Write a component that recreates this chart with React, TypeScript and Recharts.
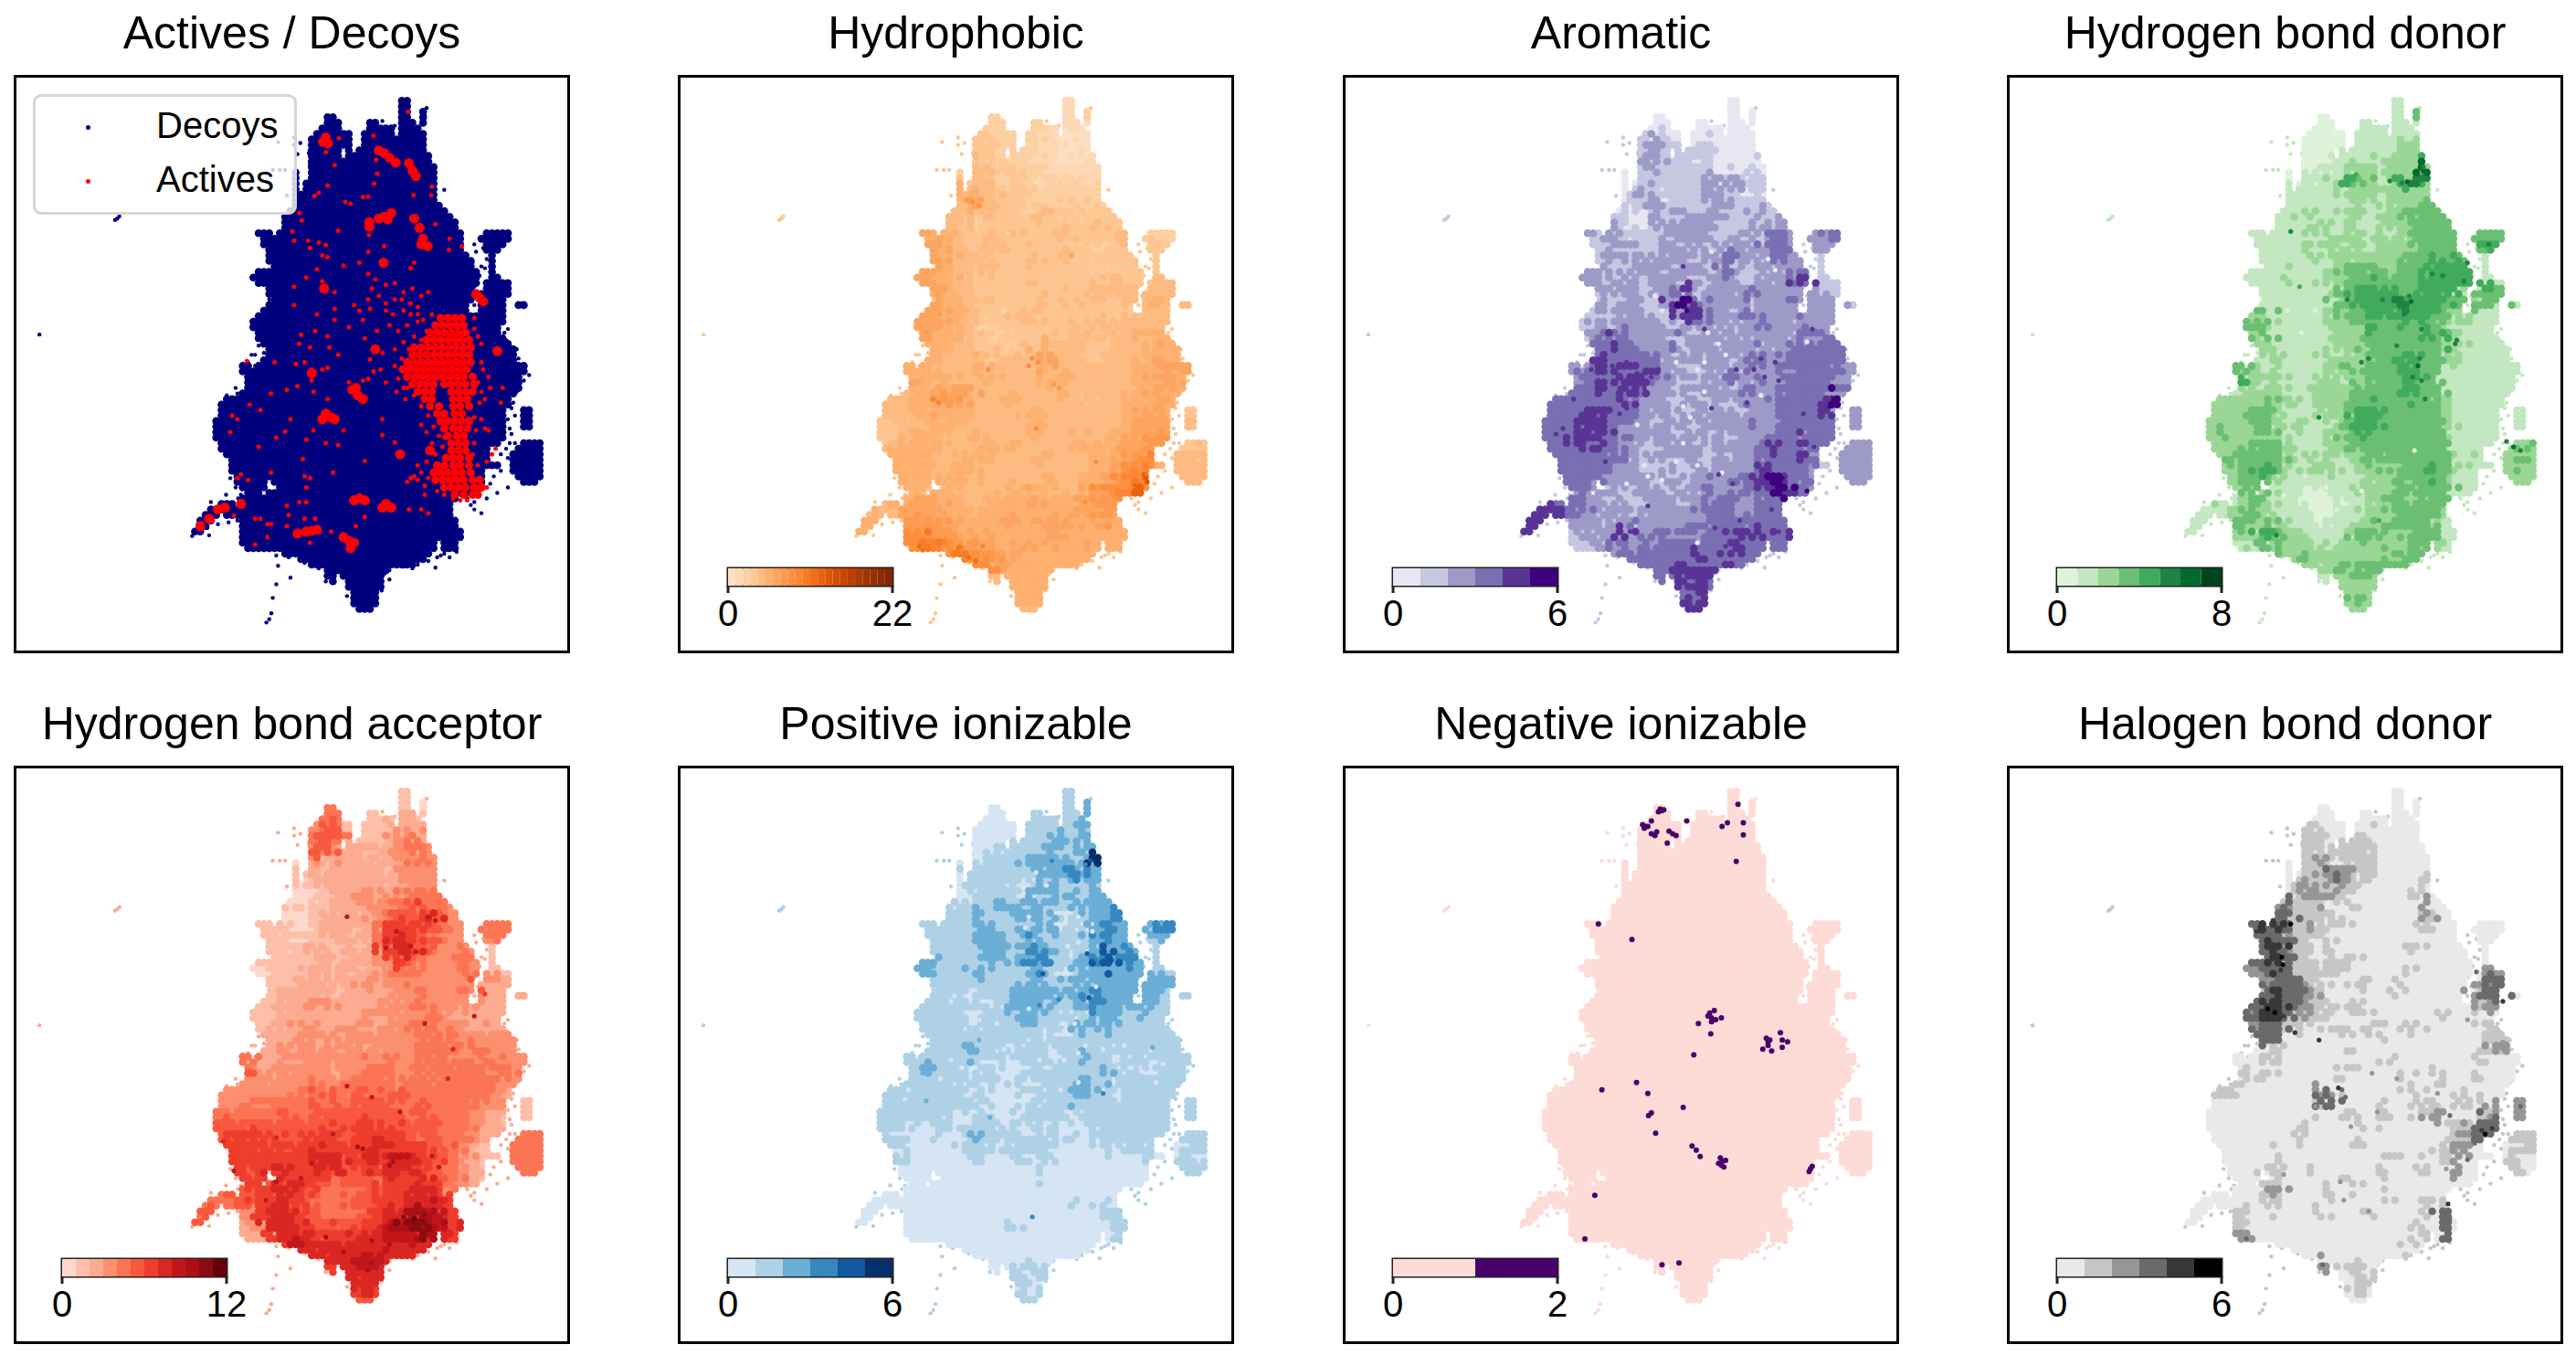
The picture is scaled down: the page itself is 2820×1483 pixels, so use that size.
import React from "react";
import { ScatterChart, Scatter, XAxis, YAxis, Legend, BarChart, Bar, ReferenceArea } from "recharts";

// ---------- footprint of the embedding, read row by row: x-start, x-end pairs; rows are 15 units apart from y=70 ----------
const footprintSpans: number[][] = [
[1090,1110],[1085,1115],[1085,1118,1155,1165],[880,910,1095,1120,1150,1168],[875,915,1000,1030,1095,1125,1150,1160],
[860,925,1000,1075,1090,1150],[845,945,990,1078,1090,1160],[840,955,985,1163],[838,945,982,1165],[835,925,945,950,975,1165],
[835,925,940,1172],[838,1180],[840,1185],[790,805,835,1188],[790,805,828,1190],[790,805,825,1190],[792,805,820,1190],[790,810,815,1188],
[790,1190],[785,1200],[775,1222],[765,1235],[760,1245],[755,1255],[690,730,745,1262,1325,1405],[700,1268,1320,1408],[705,1270,1330,1390],
[712,1272,1335,1370],[715,1285,1338,1355],[720,1292,1342,1355],[725,1298,1345,1360],[678,740,745,1305,1345,1362],[675,1305,1340,1365],
[680,740,745,1305,1330,1398],[710,735,742,1300,1325,1398],[708,735,738,1295,1320,1395],[725,1290,1315,1392],[715,1285,1312,1390,1425,1442],
[695,1285,1310,1390],[680,1390],[675,1385],[675,1365],[680,1370],[690,1385],[705,1395],[712,1412],[708,1415],[695,1415],[645,665,690,1440],
[640,680,685,1442],[650,1438],[660,1425],[650,1425],[635,1415],[590,1405],[585,1395],[582,1390,1440,1460],[578,1385,1430,1465],[568,1390,1430,1465],
[562,1390,1440,1462],[565,1390],[568,1390],[575,1375,1430,1490],[580,1345,1415,1497],[598,1345,1405,1497],[605,1335,1405,1497],[610,1335,1350,1375,1405,1495],
[610,1330,1410,1495],[618,1325,1420,1485],[625,715,735,1320,1440,1470],[640,715,740,1320],[650,700,720,1310],[640,1250],[575,625,635,1240],[545,630,640,1240],
[530,580,600,630,635,1240],[520,565,635,1250],[515,550,638,1258],[510,535,640,1260],[645,1200,1210,1260],[645,1195,1212,1258],[650,720,730,1185,1215,1255],
[760,1180],[800,1165],[840,1135],[880,1050],[885,905,930,1040],[888,900,935,1035],[945,1035],[948,1032],[952,1030],[955,1028],[968,1005],
];

// ---------- per-panel level maps, 30-unit cells from x=480, y=60 ----------
const hydrophobicLevels = [
"..... ..... ..... ..... 1",
"..... ..... ....2 ..... 1.2",
"..... ..... ...22 ...21 110",
"..... ..... ..322 2.211 000",
"..... ..... ..332 ..211 000",
"..... ..... ..332 22111 0011.",
"..... ..... 2.443 32221 1111.",
"..... ..... 3.432 23212 1211.",
"..... ..... 54543 33222 2222.",
"..... ..... 45643 33232 2322.",
"..... ....4 44343 33243 33233",
"..... ....4 43233 33333 33343 3",
"..... ..655 43343 43333 43333 44.22 2",
"..... ...65 43344 33333 33322 33.33",
"..... ...65 44433 33433 43333 33..3",
"..... ...65 44343 33333 33332 333.3",
"..... ..655 44333 33433 33333 433.4",
"..... ...65 44333 33333 33344 44444 4",
"..... ...65 54343 33343 43343 34445 4",
"..... ..665 54433 34333 33334 33444 4",
"..... ..665 44323 33433 34344 34444",
"..... ..655 54332 33333 34433 44545 5",
"..... ...55 44333 23354 44333 44455 5",
"..... ...54 44434 34466 44334 44456 55",
"..... .5544 44544 44454 44444 44555 66",
"..... .6545 44454 44445 54444 44556 65",
"..... .4565 66444 44444 54444 44556 55",
"....4 45567 65444 54444 44344 45556 5",
"....4 44555 55444 44544 44444 45566 5.3",
"...33 44455 54444 44454 44444 45666 6.4",
"...33 45554 44544 44544 45444 55667 6",
"...44 55454 44454 54444 44554 56677 ..33",
"....5 55544 45554 44454 44455 56785 .444",
"..... 55544 55444 44444 44455 67895 .444",
"..... 55554 54544 44445 44556 789a. ..44",
"..... .5455 44444 54554 44568 89c88",
"..545 .6665 54445 55655 55677 7",
".454. .6665 55455 55555 56667 6",
".55.. .7776 55555 65566 65566 55",
".5... .8877 65565 55556 65555 55",
"..... .8a98 77665 55655 55655 55",
"..... ...89 a9876 65555 555",
"..... ..... ..886 55555 5",
"..... ..... ...4. 5555.",
"..... ..... ..... .555.",
"..... ..... ..... .555.",
"..... ..... ..... .44..",
];

const aromaticLevels = [
"..... ..... ..... ..... 0",
"..... ..... ....0 ..... 0.0",
"..... ..... ...00 ...00 000",
"..... ..... ..101 0.010 000",
"..... ..... ..121 ..110 000",
"..... ..... ..221 11010 0001",
"..... ..... 0.121 11110 0010",
"..... ..... 0.111 11122 1211",
"..... ..... 01211 11122 1101",
"..... ..... 01120 11112 2111",
"..... ....1 10021 12122 11121",
"..... ....2 10012 22221 11212 2",
"..... ..212 11111 22221 12213 32.22 3",
"..... ...12 12112 21212 12123 33.22",
"..... ...12 21212 22122 31212 32..1",
"..... ...21 12221 12211 32121 223.1",
"..... ..212 12122 21212 21122 234.1",
"..... ...21 22112 34122 22322 22221 1",
"..... ...21 12112 45322 22122 23222 2",
"..... ..121 22211 24432 21322 22322 2",
"..... ..121 22221 12322 12232 22222",
"..... ..223 32222 12122 21222 21323 2",
"..... ...34 33222 31221 22212 22333 3",
"..... ...43 33332 12212 21232 23333 33",
"..... .2343 34342 21122 12322 32333 32",
"..... .2343 44432 12122 31232 23333 22",
"..... .3343 34322 12121 22322 33333 23",
"....3 33333 43222 12212 12222 33334 5",
"....3 33443 33212 11212 21222 33334 42.2",
"...33 34443 32212 12122 22322 33333 32.2",
"...33 34443 23222 12112 12223 33233 3",
"...33 34333 22112 22112 22234 33433 2..22",
"....3 33333 32122 12212 12233 33432 .222",
"..... 33332 22111 21212 22234 33321 .222",
"..... 33322 22212 11222 23345 43321 ..22",
"..... .3222 11221 21232 22334 54321",
"..443 .3221 21122 12223 32233 3",
".444. .3212 21222 22233 32233 3",
".44.. .2212 23222 22323 33333 34",
".4... .1222 42223 23233 34343 34",
"..... .1122 32323 33333 34333 34",
"..... ...23 33333 33434 333",
"..... ..... ..333 44343 43",
"..... ..... ...3. 4344.",
"..... ..... ..... .343.",
"..... ..... ..... .434.",
"..... ..... ..... .44..",
];

const donorLevels = [
"..... ..... ..... ..... 1",
"..... ..... ....0 ..... 1.3",
"..... ..... ...00 ...11 111",
"..... ..... ..000 0.111 121",
"..... ..... ..000 ..111 1223",
"..... ..... ..000 11111 2224",
"..... ..... 0.001 12221 22262",
"..... ..... 0.111 24321 24554",
"..... ..... 11111 12222 2222.",
"..... ..... 11111 11211 2223.",
"..... ....1 11211 12212 22333",
"..... ....1 11121 12111 22333 3",
"..... ..111 11112 12212 12333 33.33 3",
"..... ...11 11212 21212 22233 33.34",
"..... ...11 11121 22222 23334 33..1",
"..... ...11 11112 23332 23334 444.1",
"..... ..111 21112 23333 33344 444.1",
"..... ...11 11111 33444 43344 44134 3",
"..... ...11 11111 33444 45444 33233 3",
"..... ..231 11112 23344 44443 32111 1",
"..... ..321 11112 22343 33333 21211",
"..... ..231 11111 22233 33343 42111 1",
"..... ...21 11111 22233 33333 22111 1",
"..... ...12 11112 12233 34433 22111 11",
"..... .3212 11112 23233 34433 11111 11",
"..... .4212 11112 12233 33433 11111 11",
"..... .1222 11122 22333 34433 11111 11",
"....2 22232 22122 23333 33333 21111 1",
"....2 22332 11112 23444 33333 21111 1.1",
"...22 22332 12111 23443 33333 21111 1.1",
"...23 22232 11112 23433 33333 31111 1",
"...22 22333 21112 23333 33333 31111 ..23",
"....2 33333 21212 12233 33333 31112 .232",
"..... 23343 21122 11222 23334 32111 .222",
"..... 23332 11111 11122 23333 21111 ..22",
"..... .2321 11001 11222 23233 31111",
"..221 .2321 11000 01122 33233 3",
".111. .2321 11100 11123 23333 2",
".11.. .3232 11101 11222 33332 11",
".1... .2243 22111 12333 22333 11",
"..... .1133 22211 22222 22332 11",
"..... ...32 22322 22222 233",
"..... ..... ..222 32333 33",
"..... ..... ...1. 2232.",
"..... ..... ..... .222.",
"..... ..... ..... .232.",
"..... ..... ..... .22..",
];

const acceptorLevels = [
"..... ..... ..... ..... 1",
"..... ..... ....4 ..... 1.0",
"..... ..... ...44 ...11 221",
"..... ..... ..345 1.111 232",
"..... ..... ..454 ..112 342",
"..... ..... ..553 22122 3443.",
"..... ..... 0.312 22212 2343.",
"..... ..... 1.212 22221 3333.",
"..... ..... 10122 22222 2333.",
"..... ..... 00012 23322 3444.",
"..... ....1 00112 22333 45444",
"..... ....0 00112 22234 55675 3",
"..... ..111 00122 21246 66654 33.44 4",
"..... ...11 01112 21246 76553 33.34",
"..... ...11 11211 21236 77543 33..1",
"..... ...11 11121 12234 65433 343.1",
"..... ..011 11221 21223 44333 343.1",
"..... ...11 12212 22323 33333 33323 2",
"..... ...12 22221 22222 33433 34532 2",
"..... ..112 22332 22232 33433 33222 2",
"..... ..112 22222 22323 23343 22222",
"..... ..112 23222 32323 33443 33222 2",
"..... ...22 23323 23333 33434 43333 3",
"..... ...23 23232 33233 33444 43433 33",
"..... .4223 23333 33334 33444 34343 33",
"..... .5233 33332 33444 33434 44434 43",
"..... .3323 33433 34444 34434 44444 33",
"....3 33333 34445 45444 54444 44443 2",
"....3 34344 44544 45555 44544 44433 3.1",
"...44 44445 44555 55555 54544 44332 2.1",
"...55 55555 55555 56665 55554 44322 1",
"...56 66565 56566 56676 65454 44322 ..44",
"....6 66656 56666 66676 66655 43211 .444",
"..... 66666 66777 56767 87665 43211 .444",
"..... 65677 66767 55667 76654 43211 ..44",
"..... .6656 76654 55546 66765 43211",
"..445 .5667 66544 44556 67776 3",
".444. .5667 65444 45566 67777 6",
".45.. .3677 66544 44567 79988 66",
".5... .2377 76555 55668 9aa98 67",
"..... .2267 77666 66778 88a97 66",
"..... ...67 87777 77777 777",
"..... ..... ..777 78887 7",
"..... ..... ...6. 7787.",
"..... ..... ..... .777.",
"..... ..... ..... .676.",
"..... ..... ..... .55..",
];

const positiveLevels = [
"..... ..... ..... ..... 1",
"..... ..... ....0 ..... 1.2",
"..... ..... ...00 ...11 112",
"..... ..... ..000 0.111 112",
"..... ..... ..000 ..111 212",
"..... ..... ..001 11112 1212.",
"..... ..... 0.011 11222 2125.",
"..... ..... 1.111 11122 2332.",
"..... ..... 01111 10112 1212.",
"..... ..... 00111 10212 1112.",
"..... ....1 01112 21221 11222",
"..... ....1 11211 12212 01122 3",
"..... ..111 11221 12122 01023 22.23 3",
"..... ...11 11222 11211 11123 22.12",
"..... ...11 11122 12322 10124 22..1",
"..... ...21 11121 12331 11234 232.1",
"..... ..211 11211 11221 01222 222.1",
"..... ...11 11111 11211 12122 22222 2",
"..... ...11 10111 12222 12232 22222 1",
"..... ..111 11101 22212 11232 22221 1",
"..... ..111 10011 12211 10122 21111",
"..... ..111 11011 11211 01212 11111 1",
"..... ...11 11111 11101 01111 11111 1",
"..... ...11 12111 01110 11111 11111 11",
"..... .1111 11101 01110 11211 01101 11",
"..... .1211 11010 00101 11112 10101 11",
"..... .1111 10110 01011 11211 01111 11",
"....1 11111 10100 01011 12211 01111 1",
"....1 11111 11010 00101 11111 11111 1.1",
"...11 11111 00100 00111 10111 11111 1.1",
"...11 01011 01110 10101 01011 11111 1",
"...10 10000 01211 11011 00011 11111 ..11",
"....1 00000 01110 11110 00001 01110 .011",
"..... 10000 00100 01011 00000 00010 .110",
"..... 00000 00000 00010 00000 00000 ..11",
"..... .0000 00000 00000 00000 00000",
"..000 .0000 00000 00000 00000 0",
".000. .0000 00000 00000 01001 0",
".00.. .0000 00000 00000 00001 11",
".0... .0000 00000 10000 00000 11",
"..... .0000 00000 00000 00000 11",
"..... ...00 00000 00000 000",
"..... ..... ..000 00000 0",
"..... ..... ...0. 1011.",
"..... ..... ..... .101.",
"..... ..... ..... .101.",
"..... ..... ..... .11..",
];

const halogenLevels = [
"..... ..... ..... ..... 0",
"..... ..... ....0 ..... 0.0",
"..... ..... ...00 ...00 000",
"..... ..... ..100 0.010 000",
"..... ..... ..110 ..100 000",
"..... ..... ..110 11110 0000",
"..... ..... 0.121 01110 0000",
"..... ..... 0.112 32110 0000",
"..... ..... 01212 21000 0001",
"..... ..... 01221 10000 0010",
"..... ....2 31110 01000 00020",
"..... ....3 31111 00000 00021 0",
"..... ..344 31210 10000 00010 00.00 0",
"..... ...33 31100 00000 00000 00.00",
"..... ...34 21101 00000 00100 00..0",
"..... ...34 31101 01000 00000 000.0",
"..... ..233 31111 10000 01000 000.2",
"..... ...23 33110 00100 00000 00023 3",
"..... ...34 33210 00000 10000 00023 3",
"..... ..344 33210 01000 00000 00012 3",
"..... ..344 31211 00100 00000 10000",
"..... ..233 11000 10010 00100 00001 1",
"..... ...33 00000 00001 00000 00001 1",
"..... ...01 00000 01000 00000 00001 2",
"..... .0011 00000 00000 10000 00010 00",
"..... .1010 00000 01000 01001 00000 00",
"..... .1000 00000 10000 00000 10010 00",
"....1 10000 00023 00000 00100 00100 0",
"....0 00000 00013 00001 00101 00100 2.2",
"...00 00000 00000 01001 00012 00001 2.2",
"...00 00000 00100 00100 00000 01133 3",
"...00 00000 01000 00000 00000 01234 ..11",
"....0 00000 00000 00100 00000 1220. .011",
"..... 00001 00000 00000 10000 12000 .100",
"..... 00011 00100 00001 00010 02000 ..10",
"..... .0011 00000 01000 00000 00000",
"..000 .0012 00001 00000 00000 0",
".000. .0001 00000 00001 00010 1",
".00.. .1000 00010 00010 00010 31",
".0... .1000 00000 00000 00100 30",
"..... .2000 00000 00000 00010 30",
"..... ...00 00000 00000 010",
"..... ..... ..000 00000 0",
"..... ..... ...2. 0110.",
"..... ..... ..... .011.",
"..... ..... ..... .010.",
"..... ..... ..... .00..",
];

// which neighbouring level cell each fine cell shows: 0 self, 1 left, 2 right, 3 up, 4 down
const texture = [
"0102034001200","3002100400301","0410020013000","2003014000240","0120400302001","4003002001030",
"0201030240010","1000402003002","0030100020140","2400003100020","0013020040301",
];

// ---------- fine specks read per panel: x, y, level ----------
const hydrophobicSpecks: number[][] = [
[1000,770,8],[1015,780,8],[990,790,8],[875,800,8],[720,880,9],[735,890,9],[1060,840,7],[1075,850,7],[830,345,8],[850,355,8],[815,340,7],[1110,490,6],[1150,1160,8],[1320,1095,d(13)],[1325,1105,d(13)],[1315,1085,d(12)],
[680,1280,d(11)],[690,1290,d(11)],[820,1310,d(11)],[840,1320,d(11)],[860,1280,9],[800,1290,9],[1240,1130,9],[1280,1120,9],[700,700,7],[740,650,7],[1180,1050,8],[1010,960,8],
[920,640,1],[850,690,2],[950,730,2],[1040,690,2],[930,430,1],[1010,290,1],[1070,170,0],[1115,200,0],
];
const aromaticSpecks: number[][] = [
[700,800,4],[760,790,4],[800,780,4],[830,810,4],[870,820,4],[720,830,4],[780,850,4],[650,880,4],[620,960,4],[600,975,4],[740,1050,4],[780,920,4],[800,905,4],[1110,800,4],[1160,800,4],[1190,820,4],[1230,830,4],
[1140,890,4],[1040,905,4],[1060,1085,4],[1180,1105,4],[1120,1210,4],[1050,1230,4],[860,1170,4],[810,1240,4],[1000,1300,4],[1080,1280,4],[960,520,4],[1290,550,4],[1020,690,4],[1325,690,4],[1210,1180,4],[1230,1240,4],
[1180,770,4],[1100,1110,4],[850,850,4],[890,800,4],[1220,780,4],[1300,920,4],[1330,1010,4],[960,610,5],[970,640,5],[1385,880,5],[1375,900,5],[1240,1095,5],[1280,1120,5],[1310,1130,5],[1000,800,0],[1020,860,0],[960,900,0],
[830,950,0],[960,1000,0],[1000,1060,0],[860,1090,0],[900,1100,0],[800,1110,0],[1030,700,0],[1060,730,0],[880,600,0],[1040,480,0],[1200,500,0],[1220,530,0],[840,400,0],[1310,725,0],[1070,1080,0],[1000,1270,0],[900,640,0],[940,780,0],
[980,930,0],[850,1060,0],[940,1050,0],[1020,780,0],[1080,760,0],[1180,870,0],
];
const donorSpecks: number[][] = [
[1175,250,5],[1175,262,6],[1130,290,6],[1115,293,5],[1080,288,5],[1140,615,6],[1135,600,5],[1165,770,5],[1160,790,6],[1170,830,5],[1180,880,5],[1270,720,5],[1265,730,5],[1000,780,5],[1020,770,5],[1100,735,5],
[880,930,5],[960,610,5],[1060,610,5],[1200,540,5],[1230,545,5],[1290,560,5],[1300,510,5],[1360,460,5],[760,1250,5],[1430,1010,6],[1410,995,5],[1450,1020,5],[825,575,4],[800,425,5],[985,270,4],[960,285,4],[660,820,4],[1050,1210,4],
[1120,650,5],[1170,690,5],[1145,820,5],[900,1120,0],[880,1170,0],[930,1180,0],[840,1150,0],[780,1140,0],[830,700,0],[790,640,0],[870,640,0],[1000,1130,0],[1150,1020,0],
];
const acceptorSpecks: number[][] = [
[1120,490,8],[1135,505,8],[1080,450,8],[1190,420,8],[1170,410,8],[1110,510,7],[970,1035,9],[985,1040,9],[1070,1075,9],[1060,1085,9],[1075,1060,8],[900,1000,8],[940,870,8],[1010,900,8],[1090,940,8],[1180,1060,8],[1200,1090,8],
[810,1120,8],[840,1080,8],[710,1180,8],[740,1130,8],[620,1100,8],[590,1020,7],[740,1010,7],[1110,1240,a(10)],[1100,1225,a(10)],[1130,1230,a(11)],[1170,1250,a(10)],[1160,1220,a(10)],[1000,1370,9],[1010,1350,9],[940,410,8],
[1050,495,8],[1160,700,8],[1240,770,7],[1300,680,8],[1225,850,7],[1330,620,6],[1010,1290,9],[1060,1300,9],[880,1280,9],[930,1320,9],
];
const positiveSpecks: number[][] = [
[1175,250,5],[1180,262,5],[1165,258,4],[1150,268,3],[1130,292,3],[1115,290,3],[1055,258,3],[1030,525,3],[1040,540,3],[1020,515,3],[1030,565,4],[1220,520,4],[1225,528,4],[1155,510,4],[1180,525,3],[1160,630,4],[1145,635,3],[1075,635,3],
[1020,650,3],[1225,450,3],[1390,435,3],[1375,440,3],[1200,890,3],[1000,1225,3],[880,450,2],[860,520,2],[720,545,2],[700,550,2],[690,835,2],[700,910,2],[880,955,2],[850,1010,2],[850,745,2],[1340,765,2],
[780,625,0],[770,640,0],[830,680,0],[850,690,0],[1100,490,0],[1040,325,0],[1010,290,0],[990,410,0],[980,440,0],[1130,410,0],[1170,450,0],[1130,480,0],[1180,600,0],[990,660,0],[1090,720,0],[1120,700,0],[900,700,0],[920,770,0],
[1130,780,0],[1150,760,0],[1020,800,0],[1090,800,0],[1240,800,0],[1280,820,0],[1370,810,0],[1350,860,0],[1310,830,0],[800,820,0],[770,800,0],[650,880,0],[640,905,0],[740,850,0],[1080,880,0],[1130,860,0],[1200,770,0],[1260,760,0],
];
const halogenSpecks: number[][] = [
[775,520,5],[778,540,5],[772,555,4],[800,430,5],[750,420,4],[735,660,5],[755,670,5],[780,680,4],[720,640,4],[880,745,4],[812,725,4],[945,880,3],[935,875,4],[955,900,3],[1350,1000,5],[1340,990,4],[1370,985,4],[1400,640,4],
[1325,560,3],[1250,950,3],[1215,890,2],[1100,850,2],[1030,835,2],[970,980,2],[1045,940,2],[870,925,2],[780,1110,2],[800,1150,2],[1240,1095,2],[940,1130,2],[950,1180,2],[1020,1210,2],[660,1270,2],[675,1285,3],[890,1355,3],
[1245,1190,4],[1250,1230,3],[1300,1070,3],[1320,1025,3],[720,440,4],[700,440,3],[1400,770,2],[1400,750,2],[1300,690,2],[1450,925,3],
];

// ---------- stray points shared by every panel ----------
const strayPoints: number[][] = [
[290,390],[284,394],[296,384],[70,705],[712,1487],[720,1478],[726,1462],[745,182],[790,190],[808,185],[832,212],[730,258],[750,258],[765,258],
[770,328],[1435,620],[1428,622],[1215,312],[1455,815],[1395,1120],[1365,1135],[1320,1190],[1290,1168],[1335,1150],[745,1333],[780,1365],[740,1383],[730,1420],
[555,1160],[598,1140],[605,1215],[575,1220],[550,1250],[502,1252],[1190,1338],[1140,1330],[1060,1370],[1050,1335],[1300,460],[1320,520],[1335,500],[1310,540],
[1385,700],[1390,720],[1375,745],[660,780],[680,760],[625,850],[640,870],[1420,745],[1400,1000],[1395,1040],[1400,960],[1410,890],[1215,1300],[1230,1310],
[640,1140],[630,1210],[1165,90],[1160,110],[1100,1170],[720,1290],[670,760],[1300,1180],[1360,1060],[1375,1075],
[1280,490],[1295,510],[1305,480],[1325,470],[1315,545],[1330,525],[1300,575],[1310,600],[1300,625],[1370,690],[1395,690],[1380,665],[1400,735],[1425,770],
[1440,830],[1420,860],[1405,905],[1415,925],[1395,935],[1405,975],[1415,1000],[1390,1015],[1375,1030],[1355,1090],[1345,1110],[1280,1150],[1300,1160],
[690,735],[705,755],[680,790],[670,835],[630,865],[620,880],[600,870],[585,900],[720,610],[705,640],[740,1305],[775,1310],[820,1325],[860,1340],
[1100,1335],[1125,1340],[1170,1320],[1195,1310],[1045,1355],[1060,1345],[1225,1290],[1250,1295],[1205,1305],[940,1415],[1038,1400],[610,1095],[625,1120],
[640,1180],[632,1150],[600,1195],[565,1180],[545,1230],[880,1375],[905,1345],[790,170],[800,215],[835,245],[1010,130],[1040,125],[1075,138],
];

// ---------- Actives / Decoys ----------
const activeDots: number[][] = [
[1113,100],[1015,165],[917,172],[880,210],[1022,230],[1025,268],[1017,295],[905,245],[885,300],[1180,303],[1178,327],[1128,327],[1000,330],[985,332],[950,350],[935,345],
[860,320],[848,328],[805,375],[812,395],[785,425],[790,450],[830,450],[860,455],[880,462],[835,470],[870,490],[885,495],[915,423],[1002,435],[1190,405],[1230,445],[1265,465],
[1228,475],[1045,465],[1000,480],[1130,510],[1120,525],[975,510],[930,518],[855,528],[870,560],[825,550],[880,585],[875,575],[790,575],[905,590],[1000,540],[1020,555],[1050,570],
[1075,565],[1010,580],[1030,600],[1000,610],[960,625],[1050,620],[1075,610],[1100,590],[1125,580],[1170,590],[1150,600],[905,635],[790,625],[1005,635],[975,640],[1050,640],
[1070,650],[1100,640],[1120,650],[855,650],[905,665],[850,695],[945,685],[985,665],[1025,695],[1060,680],[1085,695],[1110,680],[1140,670],[885,710],[810,705],[805,730],[835,740],
[890,740],[915,760],[990,715],[1020,745],[1040,755],[1005,772],[1075,745],[1100,725],[1130,710],[1165,695],[657,777],[735,780],[820,780],[795,785],[840,800],[870,800],[885,795],
[840,830],[800,845],[770,855],[725,865],[845,860],[885,880],[1015,805],[1035,800],[1050,835],[1080,860],[1110,850],[1000,825],[945,835],[985,830],[665,895],[695,910],[615,925],
[630,935],[610,970],[780,935],[765,968],[740,985],[845,965],[930,965],[1040,935],[1040,978],[1075,998],[825,990],[880,1000],[915,1005],[690,1010],[815,1043],[990,1048],[1330,880],
[1380,850],[1375,890],[1360,750],[1300,690],[1320,730],[1340,820],[1320,860],[1330,960],[1120,1095],[1140,1100],[1160,1115],[1150,1080],[1140,1060],[1350,1030],[1335,1050],[1360,1015],
[1280,1155],[640,1085],[630,1095],[660,1100],[725,1080],[820,1090],[835,1095],[825,1120],[900,1080],[805,1160],[825,1160],[770,1170],[775,1195],[770,1225],[680,1205],[695,1205],
[715,1220],[725,1220],[715,1255],[680,1275],[820,1205],[850,1205],[990,1200],[1115,1180],[1150,1180],[1170,1190],[560,1210],[620,1197],[600,1180],[835,1270],[895,1240],[965,1225],[945,1290],
[1140,650],[1155,665],[1180,650],[1150,720],[1115,745],[1095,770],[1075,790],[1085,825],[1100,850],[1105,880],[1130,870],[1150,900],[1170,925],[1185,955],[1200,980],[1210,1010],[1180,1000],[1165,1050],
[1300,660],[1310,710],[1320,780],[1325,800],[1310,835],[1345,850],[1315,890],[1300,930],[1320,935],[1305,965],[1340,965],[1300,1000],[1295,1030],[1310,1060],[1215,985],[1190,1030],[1170,1095],[1195,1130],[1215,1140],
[1150,950],[1165,970],[1130,1090],[1110,1105],[1160,1140],[1240,1150],[1260,1155],[1335,1120],[1120,620],[1095,610],[1140,630],
];
const activeClusters: number[][] = [
[880,170],[872,182],[886,186],[1030,205],[1045,212],[1060,225],[1078,238],[1115,240],[1125,260],[1135,275],[1030,390],[1045,385],[1065,375],[1055,392],[1003,400],[1003,412],[1130,390],[1145,415],[1155,445],[1168,465],[1150,460],[1043,510],
[1305,595],[1325,615],[1315,605],[875,580],[955,855],[970,870],[985,880],[965,850],[840,810],[880,920],[895,930],[870,935],[905,935],[1020,745],[825,1240],[800,1245],[855,1235],[840,1238],[930,1255],[945,1265],[960,1270],[950,1285],[975,1150],[960,1155],[990,1155],
[1050,1165],[1065,1175],[1040,1175],[1175,1020],[1090,1030],[525,1225],[550,1205],[575,1180],[595,1175],[640,1165],[1365,750],
];
const activeBand: number[][] = [
[660,1205,1225,1245,1265],[680,1190,1210,1230,1250,1270],[700,1175,1195,1215,1235,1255,1275],[720,1165,1185,1205,1225,1245,1265,1285],
[740,1130,1150,1170,1190,1210,1230,1250,1270,1290],[760,1125,1145,1165,1185,1205,1225,1245,1265,1285],[780,1110,1130,1150,1170,1190,1210,1230,1250,1270,1290],
[800,1098,1118,1138,1158,1178,1198,1218,1238,1258,1278],[820,1110,1130,1150,1170,1190,1210,1230,1250,1270,1295],[840,1125,1145,1165,1185,1215,1235,1255,1275,1300],
[860,1140,1160,1180,1235,1255,1275,1295],[880,1160,1180,1240,1260,1280],[900,1175,1200,1240,1260,1285],[920,1195,1215,1245,1265],[940,1205,1225,1245,1265,1285],
[960,1215,1240,1260,1280],[980,1225,1250,1270],[1000,1235,1255,1275],[1020,1235,1255,1275],[1040,1220,1240,1260,1285],[1060,1195,1215,1240,1260,1285],
[1080,1185,1205,1225,1245,1265,1290],[1100,1190,1210,1230,1250,1270,1295,1315],[1120,1215,1235,1255,1275,1300,1320],[1140,1245,1270,1295,1310],
];

// ---------- Negative ionizable: the few points above level 0 ----------
const negativeDots: number[][] = [
[900,122],[890,125],[905,120],[895,118],[870,150],[855,165],[850,170],[845,160],[860,165],[880,190],[870,185],[885,180],[920,178],[930,185],[940,190],[915,210],[970,150],[1070,165],[1085,155],[1115,105],[1130,155],
[1130,188],[1110,260],[720,430],[815,472],[1040,685],[1030,680],[1048,665],[1052,690],[1068,685],[1040,695],[1035,672],[1003,700],[1038,728],[1205,745],[1195,740],[1200,760],[1210,775],[1185,770],[1235,725],
[1240,745],[1255,750],[1240,765],[1200,750],[990,785],[730,880],[828,860],[860,890],[960,928],[870,943],[862,950],[882,998],[985,1033],[997,1044],[1008,1061],[1070,1075],[1060,1080],[1075,1090],
[1065,1065],[1080,1072],[1068,1085],[1320,1095],[1325,1088],[1316,1102],[710,1167],[682,1285],[948,1350],[900,1355],
];

// ---------- colour bars ----------
const orangeBar = ["#fde0c2","#fdd8b2","#fdd0a2","#fdc692","#fdbb81","#fdb06f","#fda55f","#fd9a4f","#fd8f3f","#fa8532","#f57b25","#ee6f18","#e8630f","#df5707","#d54d03","#c94401","#bb3e02","#ad3a03","#a03503","#943104","#8a2c04","#7f2704"];
const purpleBar = ["#e8e6f1","#c6c7e1","#9e9ac8","#7a6fb2","#5a3495","#3f007d"];
const greenBar = ["#dff2da","#c3e7c0","#9ad796","#6bbf72","#40aa5d","#1f8443","#006b2e","#00441b"];
const redBar = ["#fed8cc","#fdbfa9","#fcab90","#fc8f6f","#fb7555","#f8583e","#ee3d2d","#da2723","#c3161b","#ab1016","#8c0a12","#67000d"];
const blueBar = ["#d6e5f3","#afd1e6","#6baed6","#3787c0","#12589f","#08306b"];
const negativeBar = ["#fddbd6","#49006a"];
const greyBar = ["#e9e9e9","#c6c6c6","#969696","#6a6a6a","#383838","#000000"];

function d(n: number) { return n; }
function a(n: number) { return n; }

const titles = ["Actives / Decoys","Hydrophobic","Aromatic","Hydrogen bond donor","Hydrogen bond acceptor","Positive ionizable","Negative ionizable","Halogen bond donor"];
const tickMaxima = [0,22,6,8,12,6,2,6];
const legendNames = ["Decoys","Actives"];
const navy = "#00007f";
const red = "#ff0000";

// layout
const cropX = [16,743,1471,2198,16,743,1471,2198];
const cropY = [82,82,82,82,838,838,838,838];
const barLeft = [0,797,1525,2252,68,797,1525,2252];
const CROP_W = 607, CROP_H = 632, UNITS = 1568, ROW0 = 60, COL0 = 480, COARSE = 30, SPAN_Y0 = 70, FINE = 15, CELL_R = 4.3;
const FONT = "'Liberation Sans', Arial, sans-serif";

type Pt = { x: number; y: number };
const toPts = (list: number[][]): Pt[] => list.map(([x, y]) => ({ x, y }));
const bandPts: Pt[] = activeBand.flatMap(([y, ...xs]) => xs.map((x) => ({ x, y })));

const fineCells: Pt[] = footprintSpans.flatMap((spans, i) => {
  const y = SPAN_Y0 + FINE * i;
  const out: Pt[] = [];
  for (let s = 0; s < spans.length; s += 2) {
    for (let x = Math.ceil(spans[s] / FINE) * FINE; x <= spans[s + 1]; x += FINE) out.push({ x, y });
  }
  return out;
});

const OFFSETS = [[0, 0], [0, -1], [0, 1], [-1, 0], [1, 0]];
function cellsByLevel(levels: string[] | null, count: number, fallback: number): Pt[][] {
  const out: Pt[][] = Array.from({ length: count }, () => []);
  const clean = levels ? levels.map((s) => s.replace(/ /g, "")) : null;
  const read = (r: number, c: number) => {
    const ch = clean?.[r]?.[c];
    if (!ch || ch === ".") return NaN;
    return parseInt(ch, 36);
  };
  fineCells.forEach((p) => {
    let lv = 0;
    if (clean) {
      const r = Math.floor((p.y - ROW0) / COARSE);
      const c = Math.floor((p.x - COL0) / COARSE);
      const code = Number(texture[Math.round(p.y / FINE) % 11][Math.round(p.x / FINE) % 13]);
      const order = [OFFSETS[code], ...OFFSETS];
      lv = NaN;
      for (const [dr, dc] of order) {
        lv = read(r + dr, c + dc);
        if (!isNaN(lv)) break;
      }
      if (isNaN(lv)) lv = fallback;
    }
    out[Math.min(lv, count - 1)].push(p);
  });
  return out;
}

const dot = (r: number, fill: string) => (p: any) => <circle cx={p.cx} cy={p.cy} r={r} fill={fill} />;

function Frame({ left, top }: { left: number; top: number }) {
  return <div style={{ position: "absolute", left: left - 1, top, width: 609, height: 633, boxSizing: "border-box", border: "3px solid #000", pointerEvents: "none" }} />;
}

function Title({ text, left, top }: { text: string; left: number; top: number }) {
  return (
    <div style={{ position: "absolute", left, top: top - 75, width: CROP_W, textAlign: "center", font: `50px ${FONT}`, lineHeight: "58px", color: "#000", whiteSpace: "nowrap" }}>
      {text}
    </div>
  );
}

function LegendBox({ payload }: any) {
  const items = legendNames.map((n) => (payload || []).find((e: any) => e.value === n)).filter(Boolean);
  return (
    <div style={{ width: 289, height: 132, boxSizing: "border-box", border: "3px solid #d5d5d5", borderRadius: 9, background: "rgba(255,255,255,0.8)", position: "relative", font: `40px ${FONT}`, color: "#000" }}>
      {items.map((e: any, i: number) => (
        <div key={e.value}>
          <span style={{ position: "absolute", left: 55, top: 31 + i * 59, width: 5, height: 5, borderRadius: 3, background: e.color }} />
          <span style={{ position: "absolute", left: 132, top: 8 + i * 59, lineHeight: "46px" }}>{e.value}</span>
        </div>
      ))}
    </div>
  );
}

function ColorBar({ colors, max, left, top }: { colors: string[]; max: number; left: number; top: number }) {
  const row: Record<string, any> = { name: "bar" };
  colors.forEach((_, i) => { row["s" + i] = max / colors.length; });
  return (
    <div style={{ position: "absolute", left: left - 60, top: top - 2 }}>
      <BarChart width={300} height={90} data={[row]} layout="vertical" barCategoryGap={0} margin={{ top: 2, right: 60, bottom: 49, left: 60 }}>
        <XAxis type="number" domain={[0, max]} ticks={[0, max]} interval={0} axisLine={false} tickSize={8} tickMargin={8} height={20} fontSize={40}
          tickLine={{ stroke: "#222", strokeWidth: 3 }} tick={{ fontSize: 40, fill: "#000", fontFamily: FONT }} allowDataOverflow />
        <YAxis type="category" dataKey="name" hide />
        {colors.map((c, i) => (
          <Bar key={i} dataKey={"s" + i} stackId="a" fill={c} isAnimationActive={false} />
        ))}
        <ReferenceArea x1={0} x2={max} fill="none" stroke="#222" strokeWidth={3} ifOverflow="visible" />
      </BarChart>
    </div>
  );
}

function Panel({ index, levels, colors, strayColor, fallback, specks, extra }: { index: number; levels: string[] | null; colors: string[]; strayColor: string; fallback: number; specks?: number[][]; extra?: React.ReactNode }) {
  const cells = cellsByLevel(levels, colors.length, fallback);
  const speckByLevel = colors.map((_, lv) => (specks || []).filter((s) => s[2] === lv));
  return (
    <div style={{ position: "absolute", left: cropX[index], top: cropY[index] }}>
      <ScatterChart width={CROP_W} height={CROP_H} margin={{ top: 0, right: 0, bottom: 0, left: 0 }}>
        <XAxis type="number" dataKey="x" domain={[0, UNITS]} hide />
        <YAxis type="number" dataKey="y" domain={[0, UNITS]} reversed hide />
        <Scatter name="stray" data={toPts(strayPoints)} fill={strayColor} shape={dot(2.2, strayColor)} isAnimationActive={false} legendType="none" />
        {cells.map((pts, lv) => pts.length ? (
          <Scatter key={lv} name={"level " + lv} data={pts} fill={colors[lv]} shape={dot(CELL_R, colors[lv])} isAnimationActive={false} legendType="none" />
        ) : null)}
        {speckByLevel.map((list, lv) => list.length ? (
          <Scatter key={"s" + lv} name={"specks " + lv} data={toPts(list)} fill={colors[lv]} shape={dot(2.6, colors[lv])} isAnimationActive={false} legendType="none" />
        ) : null)}
        {extra}
      </ScatterChart>
    </div>
  );
}

function ActivesPanel() {
  return (
    <div style={{ position: "absolute", left: cropX[0], top: cropY[0] }}>
      <ScatterChart width={CROP_W} height={CROP_H} margin={{ top: 0, right: 0, bottom: 0, left: 0 }}>
        <XAxis type="number" dataKey="x" domain={[0, UNITS]} hide />
        <YAxis type="number" dataKey="y" domain={[0, UNITS]} reversed hide />
        <Scatter name="Decoys" data={fineCells} fill={navy} shape={dot(CELL_R, navy)} isAnimationActive={false} />
        <Scatter name="decoy strays" data={toPts(strayPoints)} fill={navy} shape={dot(2.2, navy)} isAnimationActive={false} legendType="none" />
        <Scatter name="Actives" data={toPts(activeDots)} fill={red} shape={dot(2.5, red)} isAnimationActive={false} />
        <Scatter name="active clusters" data={toPts(activeClusters)} fill={red} shape={dot(5.5, red)} isAnimationActive={false} legendType="none" />
        <Scatter name="active band" data={bandPts} fill={red} shape={dot(4.6, red)} isAnimationActive={false} legendType="none" />
        <Legend layout="vertical" align="center" verticalAlign="middle" content={<LegendBox />} wrapperStyle={{ left: 20, top: 21, width: 289, height: 132 }} />
      </ScatterChart>
    </div>
  );
}

export default function App() {
  const panels = [
    { i: 1, l: hydrophobicLevels, c: orangeBar, f: 4, s: hydrophobicSpecks },
    { i: 2, l: aromaticLevels, c: purpleBar, f: 1, s: aromaticSpecks },
    { i: 3, l: donorLevels, c: greenBar, f: 1, s: donorSpecks },
    { i: 4, l: acceptorLevels, c: redBar, f: 2, s: acceptorSpecks },
    { i: 5, l: positiveLevels, c: blueBar, f: 1, s: positiveSpecks },
    { i: 7, l: halogenLevels, c: greyBar, f: 0, s: halogenSpecks },
  ];
  return (
    <div style={{ position: "absolute", left: 0, top: 0, width: 2820, height: 1483, background: "#fff", overflow: "hidden" }}>
      <ActivesPanel />
      {panels.map((p) => (
        <Panel key={p.i} index={p.i} levels={p.l} colors={p.c} fallback={p.f} specks={p.s} strayColor={p.c[p.i === 4 ? 2 : p.i === 1 ? 3 : 1]} />
      ))}
      <Panel index={6} levels={null} colors={negativeBar} fallback={0} strayColor={negativeBar[0]}
        extra={<Scatter name="level 1 dots" data={toPts(negativeDots)} fill={negativeBar[1]} shape={dot(3, negativeBar[1])} isAnimationActive={false} legendType="none" />} />
      {titles.map((t, i) => (
        <React.Fragment key={t}>
          <Frame left={cropX[i]} top={cropY[i]} />
          <Title text={t} left={cropX[i]} top={cropY[i]} />
        </React.Fragment>
      ))}
      {[1, 2, 3, 4, 5, 6, 7].map((i) => {
        const colors = [orangeBar, purpleBar, greenBar, redBar, blueBar, negativeBar, greyBar][i - 1];
        return <ColorBar key={i} colors={colors} max={tickMaxima[i]} left={barLeft[i]} top={i < 4 ? 622 : 1378} />;
      })}
    </div>
  );
}
